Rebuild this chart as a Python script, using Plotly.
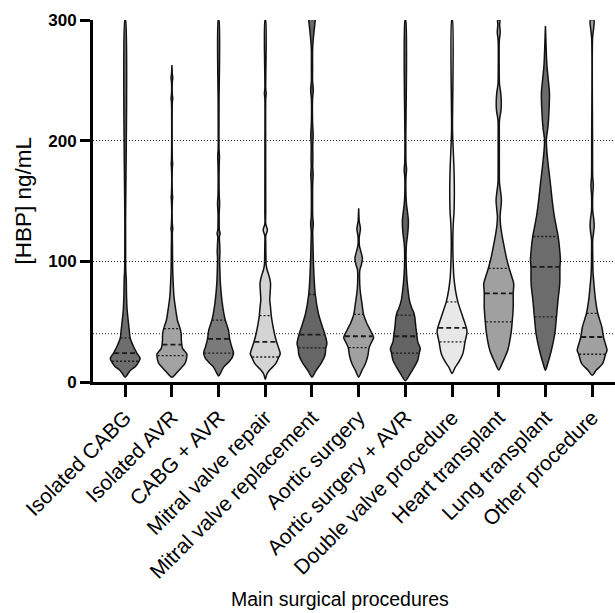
import numpy as np
import plotly.graph_objects as go

procedures = [
    "Isolated CABG", "Isolated AVR", "CABG + AVR", "Mitral valve repair",
    "Mitral valve replacement", "Aortic surgery", "Aortic surgery + AVR",
    "Double valve procedure", "Heart transplant", "Lung transplant", "Other procedure",
]
fill_colors = [
    "#6e6e6e", "#a2a2a2", "#7a7a7a", "#d4d4d4", "#666666", "#a0a0a0",
    "#636363", "#e8e8e8", "#a0a0a0", "#6c6c6c", "#a0a0a0",
]

# Kernel density profiles: HBP level (ng/mL) and relative violin width at that level
cabg_levels = [4, 7, 9.7, 13, 16.6, 19.5, 24, 29, 36.5, 43, 48.5, 59.5, 70.5, 78, 85, 92, 100, 130, 300]
cabg_widths = [0, 0.19, 0.36, 0.7, 0.9, 1.0, 0.78, 0.57, 0.33, 0.27, 0.22, 0.13, 0.09, 0.08, 0.07, 0.04, 0.03, 0.025, 0.02]

avr_levels = [4, 8.3, 12, 15.2, 19, 23, 27.7, 31, 35, 40, 44.6, 48, 51.2, 59.5, 70.5, 84, 95, 110, 124, 127, 131,
              150, 153, 156, 178, 181, 184, 232, 235, 238, 249, 252, 255, 262.7]
avr_widths = [0, 0.37, 0.65, 0.87, 0.97, 1.0, 0.72, 0.66, 0.63, 0.62, 0.54, 0.45, 0.37, 0.26, 0.14, 0.08, 0.05, 0.04, 0.03, 0.06, 0.03,
              0.03, 0.05, 0.03, 0.03, 0.05, 0.03, 0.03, 0.06, 0.03, 0.03, 0.06, 0.03, 0]

cabg_avr_levels = [5, 8, 12.5, 16.6, 20, 24, 29, 35.7, 43, 51.2, 56.8, 67.8, 81.7, 95.4, 102, 108, 115, 120, 123, 126,
                   130, 140, 148, 155, 180, 186.5, 193, 230, 300]
cabg_avr_widths = [0, 0.15, 0.35, 0.68, 0.9, 1.0, 0.88, 0.74, 0.66, 0.45, 0.35, 0.22, 0.12, 0.08, 0.07, 0.09, 0.07, 0.05, 0.1, 0.05,
                   0.04, 0.04, 0.07, 0.04, 0.04, 0.06, 0.03, 0.03, 0.02]

mv_repair_levels = [2, 6.4, 9.7, 15.2, 20.7, 23.5, 29, 33.2, 40.2, 48.5, 55, 62, 68, 75, 82, 88, 93, 97, 105, 115,
                    121, 126, 131, 140, 200, 235, 239, 243, 300]
mv_repair_widths = [0, 0.1, 0.28, 0.7, 0.91, 1.0, 0.87, 0.76, 0.61, 0.48, 0.4, 0.35, 0.3, 0.33, 0.35, 0.25, 0.12, 0.06, 0.04, 0.03,
                    0.03, 0.14, 0.03, 0.03, 0.025, 0.03, 0.06, 0.03, 0.02]

mv_replace_levels = [4, 9.7, 15.2, 22.2, 28.2, 31.9, 39.3, 45.6, 56.8, 72.5, 84.4, 98.3, 112, 125, 131, 137, 150, 165,
                     172, 178, 185, 195, 205, 215, 235, 242, 249, 260, 275, 283, 292, 300, 310]
mv_replace_widths = [0, 0.28, 0.6, 0.87, 0.93, 1.0, 0.87, 0.7, 0.43, 0.22, 0.15, 0.1, 0.07, 0.05, 0.09, 0.05, 0.04, 0.05,
                     0.08, 0.05, 0.06, 0.05, 0.08, 0.04, 0.04, 0.09, 0.04, 0.04, 0.04, 0.08, 0.15, 0.22, 0.3]

aortic_levels = [4, 9.7, 15.2, 22.2, 28.5, 33.2, 36.8, 42.9, 48.5, 55.9, 65, 76, 87, 93, 97, 102.5, 108, 113, 120,
                 127, 133, 144]
aortic_widths = [0, 0.22, 0.45, 0.62, 0.7, 0.87, 1.0, 0.78, 0.55, 0.33, 0.22, 0.1, 0.06, 0.08, 0.18, 0.25, 0.15, 0.05, 0.04,
                 0.12, 0.04, 0]

aortic_avr_levels = [1, 7, 12.5, 18, 24, 27.7, 33.2, 37.9, 45.6, 53.9, 58, 60.9, 67.8, 76, 84.4, 95.4, 109, 115, 122,
                     128, 134, 140, 147, 155, 170, 176, 182, 200, 300]
aortic_avr_widths = [0, 0.33, 0.6, 0.83, 0.93, 1.0, 0.83, 0.78, 0.7, 0.63, 0.55, 0.44, 0.27, 0.18, 0.11, 0.06, 0.05, 0.08, 0.15,
                     0.19, 0.2, 0.15, 0.08, 0.04, 0.04, 0.08, 0.04, 0.03, 0.02]

double_valve_levels = [7, 12, 15.2, 23.5, 33.2, 41.5, 44.8, 53.9, 66.4, 76, 87.1, 101, 115, 131, 140, 150, 165, 180,
                       198, 210, 300]
double_valve_widths = [0, 0.2, 0.38, 0.72, 0.87, 1.0, 0.96, 0.72, 0.39, 0.23, 0.12, 0.07, 0.05, 0.08, 0.13, 0.15, 0.15, 0.12,
                       0.06, 0.03, 0.02]

heart_levels = [10, 15.2, 26.3, 40, 49.8, 62, 73.4, 81.7, 87, 94.1, 103.7, 114.9, 123, 130, 137, 144, 150.8, 158, 165,
                175, 200, 217, 225, 232, 240, 247, 260, 283, 290, 296, 300]
heart_widths = [0, 0.22, 0.6, 0.82, 0.9, 0.97, 0.97, 1.0, 0.88, 0.7, 0.5, 0.32, 0.2, 0.12, 0.09, 0.14, 0.18, 0.12, 0.05,
                0.04, 0.04, 0.05, 0.15, 0.17, 0.13, 0.05, 0.03, 0.04, 0.1, 0.06, 0.07]

lung_levels = [9.7, 15.2, 26.3, 40.2, 53.9, 67.8, 81.7, 95.4, 101, 110, 120.6, 137, 150.8, 164.7, 178.4, 192.3, 200.6,
               211.6, 225, 239.3, 253, 262, 269.7, 280, 295]
lung_widths = [0, 0.15, 0.4, 0.63, 0.74, 0.84, 0.96, 0.97, 1.0, 0.95, 0.85, 0.6, 0.45, 0.33, 0.2, 0.09, 0.06,
               0.17, 0.24, 0.27, 0.17, 0.1, 0.07, 0.04, 0]

other_levels = [5.6, 9.7, 15.2, 23, 26.3, 31.9, 37.3, 45.6, 56.8, 67.8, 81.7, 91.3, 105, 118, 124, 130, 136, 142, 155,
                163, 170, 200, 285, 293, 300]
other_widths = [0, 0.27, 0.7, 0.9, 1.0, 0.88, 0.76, 0.65, 0.38, 0.23, 0.12, 0.06, 0.04, 0.04, 0.1, 0.14, 0.1, 0.04, 0.04,
                0.08, 0.04, 0.03, 0.03, 0.1, 0.12]

profile_levels = [cabg_levels, avr_levels, cabg_avr_levels, mv_repair_levels, mv_replace_levels, aortic_levels,
                  aortic_avr_levels, double_valve_levels, heart_levels, lung_levels, other_levels]
profile_widths = [cabg_widths, avr_widths, cabg_avr_widths, mv_repair_widths, mv_replace_widths, aortic_widths,
                  aortic_avr_widths, double_valve_widths, heart_widths, lung_widths, other_widths]

# Summary statistics per procedure (ng/mL)
medians = [24, 31, 35.7, 33.2, 39.3, 37.9, 37.9, 44.8, 73.4, 95.4, 37.3]
lower_quartiles = [17.2, 21.9, 24, 20.7, 28.2, 28.5, 24, 33.2, 49.8, 53.9, 23]
upper_quartiles = [36.5, 44.3, 51.2, 55, 72.5, 56, 55.4, 66.4, 94.1, 120.6, 56.8]
reference_level = 40

y_ticks = [0, 100, 200, 300]

HALF_WIDTH = 0.32  # maximal half-width of a violin, in category units

fig = go.Figure()

for i, (lv, wd, col) in enumerate(zip(profile_levels, profile_widths, fill_colors)):
    lv = np.asarray(lv, dtype=float)
    wd = np.asarray(wd, dtype=float) * HALF_WIDTH
    xs = np.concatenate([i + wd, (i - wd)[::-1]])
    ys = np.concatenate([lv, lv[::-1]])
    fig.add_trace(go.Scatter(
        x=xs, y=ys, mode="lines", fill="toself", fillcolor=col,
        line=dict(color="#111111", width=1.5, shape="spline", smoothing=0.8),
        hoverinfo="skip", showlegend=False,
    ))
    for val, dash, width in ((lower_quartiles[i], "2px,2px", 1.3),
                             (medians[i], "5px,3px", 1.8),
                             (upper_quartiles[i], "2px,2px", 1.3)):
        hw = np.interp(val, lv, wd) * 0.96
        fig.add_trace(go.Scatter(
            x=[i - hw, i + hw], y=[val, val], mode="lines",
            line=dict(color="#1a1a1a", width=width, dash=dash),
            hoverinfo="skip", showlegend=False,
        ))

fig.add_shape(type="line", xref="paper", x0=0, x1=1, yref="y", y0=reference_level, y1=reference_level,
              line=dict(color="#222222", width=1, dash="1px,2px"), layer="below")

fig.update_layout(
    width=615, height=613,
    margin=dict(l=93, r=0, t=20, b=231),
    plot_bgcolor="white", paper_bgcolor="white",
    font=dict(family="Liberation Sans, Arial, sans-serif", color="black"),
    showlegend=False,
    xaxis=dict(
        range=[-0.69, 10.49], tickmode="array", tickvals=list(range(len(procedures))),
        ticktext=procedures, tickangle=-45, tickfont=dict(size=21),
        showline=True, linecolor="black", linewidth=3,
        ticks="outside", ticklen=12, tickwidth=3, tickcolor="black",
        showgrid=False, zeroline=False,
    ),
    yaxis=dict(
        range=[0, 300], tickmode="array", tickvals=y_ticks, ticktext=[str(t) for t in y_ticks],
        tickfont=dict(size=17, family="Liberation Sans, Arial, sans-serif", weight="bold"),
        showline=True, linecolor="black", linewidth=3,
        ticks="outside", ticklen=10, tickwidth=3, tickcolor="black",
        showgrid=True, gridcolor="#222222", gridwidth=1, griddash="1px,2px",
        zeroline=False,
    ),
    annotations=[
        dict(text="[HBP] ng/mL", xref="paper", yref="paper", x=-0.135, y=0.5, textangle=-90,
             showarrow=False, font=dict(size=22.5), xanchor="center", yanchor="middle"),
        dict(text="Main surgical procedures", xref="paper", yref="paper", x=0.473, y=-0.6,
             showarrow=False, font=dict(size=19.5), xanchor="center", yanchor="middle"),
    ],
)

fig.write_html("out.html")
